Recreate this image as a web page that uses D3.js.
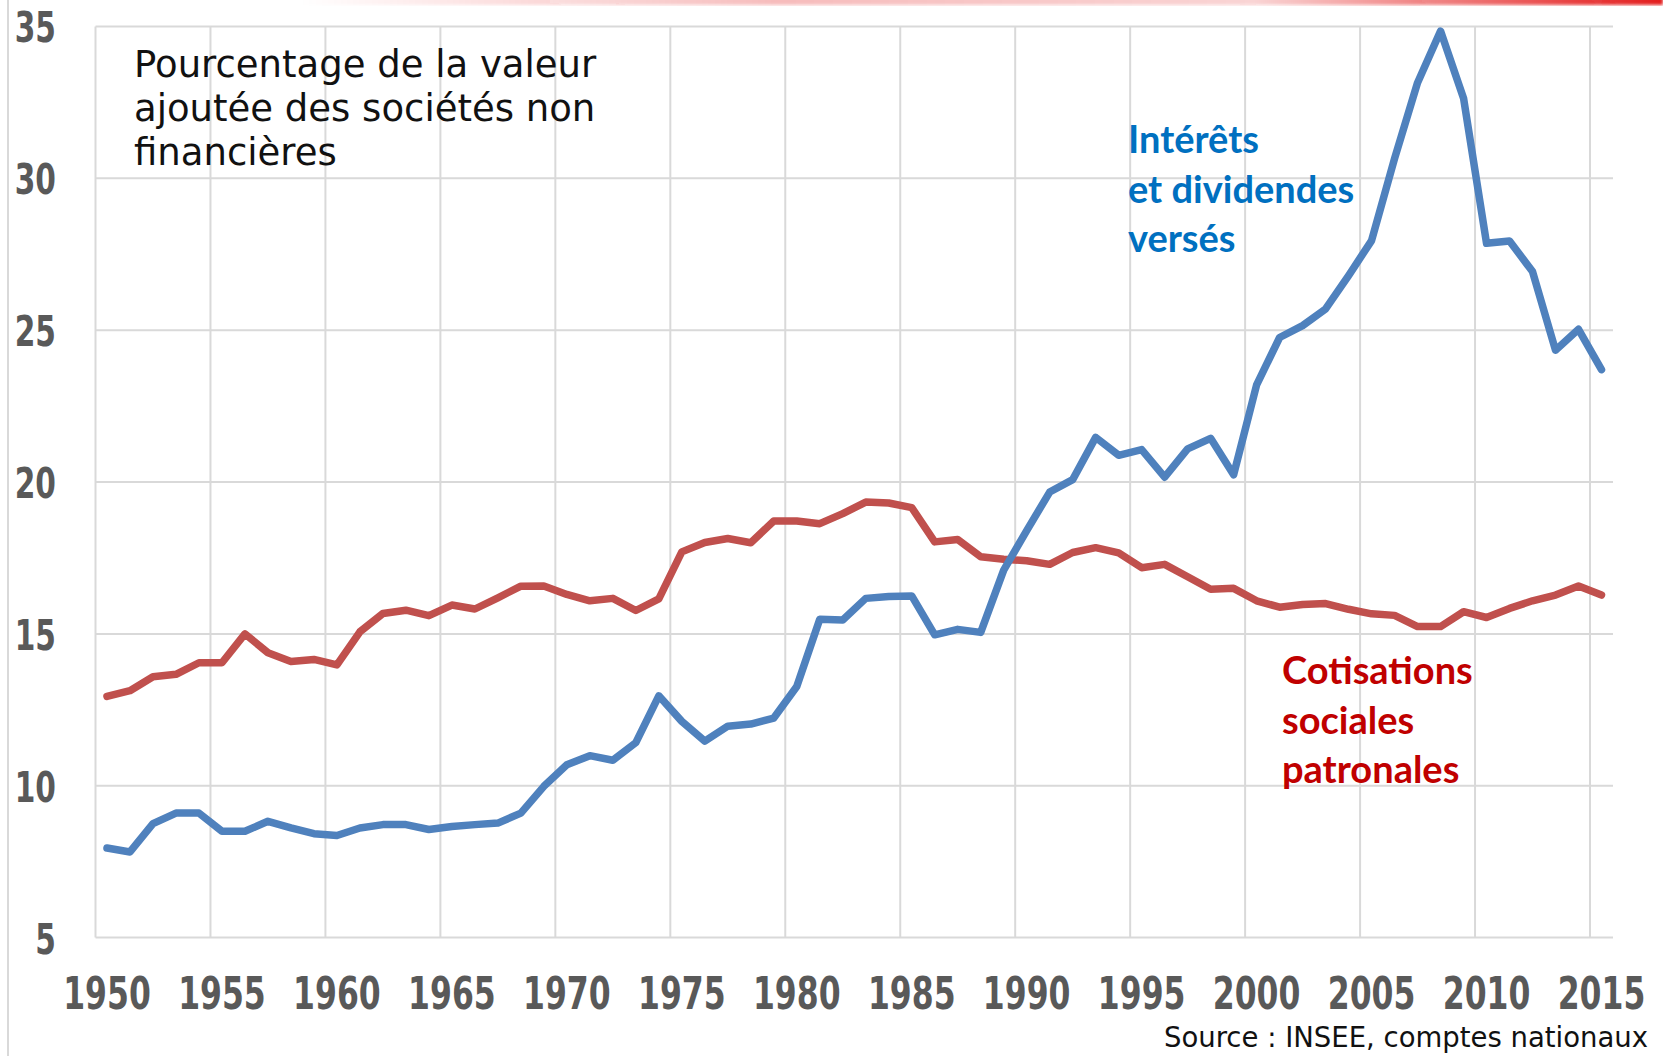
<!DOCTYPE html>
<html>
<head>
<meta charset="utf-8">
<script src="https://cdn.jsdelivr.net/npm/d3@7"></script>
<style>
  html, body { margin: 0; padding: 0; background: #fff; }
  svg { display: block; }
</style>
</head>
<body>
<svg id="chart"></svg>
<script>
'use strict';

var years = d3.range(1950, 2016);

// Intérêts et dividendes versés (% VA des SNF)
var interets = [
  7.95, 7.82, 8.75, 9.10, 9.10, 8.50, 8.50, 8.83, 8.61, 8.42,
  8.36, 8.61, 8.72, 8.72, 8.56, 8.66, 8.72, 8.77, 9.10, 9.98,
  10.69, 10.99, 10.84, 11.42, 12.96, 12.12, 11.47, 11.96, 12.03, 12.23,
  13.27, 15.48, 15.46, 16.17, 16.23, 16.25, 14.97, 15.15, 15.05, 17.10,
  18.40, 19.67, 20.08, 21.47, 20.88, 21.07, 20.16, 21.09, 21.44, 20.24,
  23.20, 24.76, 25.15, 25.70, 26.80, 27.95, 30.65, 33.15, 34.85, 32.64,
  27.86, 27.94, 26.93, 24.34, 25.03, 23.70
];

// Cotisations sociales patronales
var cotisations = [
  12.94, 13.13, 13.59, 13.67, 14.05, 14.05, 15.00, 14.38, 14.09, 14.16,
  13.98, 15.07, 15.67, 15.78, 15.60, 15.95, 15.82, 16.19, 16.57, 16.58,
  16.30, 16.09, 16.17, 15.77, 16.15, 17.70, 18.01, 18.14, 18.00, 18.72,
  18.72, 18.63, 18.96, 19.34, 19.31, 19.16, 18.03, 18.11, 17.54, 17.46,
  17.41, 17.29, 17.68, 17.84, 17.67, 17.18, 17.29, 16.88, 16.47, 16.50,
  16.09, 15.88, 15.97, 16.00, 15.81, 15.66, 15.61, 15.24, 15.24, 15.73,
  15.54, 15.84, 16.09, 16.28, 16.58, 16.28
];

var yTicks = [5, 10, 15, 20, 25, 30, 35];
var xTickYears = [1950, 1955, 1960, 1965, 1970, 1975, 1980, 1985, 1990, 1995, 2000, 2005, 2010, 2015];

var titleLines = ['Pourcentage de la valeur', 'ajoutée des sociétés non', 'financières'];
var interetsLabel = ['Intérêts', 'et dividendes', 'versés'];
var cotisationsLabel = ['Cotisations', 'sociales', 'patronales'];
var sourceText = 'Source : INSEE, comptes nationaux';

var width = 1663;
var height = 1056;
var plot = { left: 95.5, right: 1613, top: 26.5, bottom: 937.6 };

var tickFont = '"DejaVu Sans", sans-serif';
var labelFont = 'Lato, "Open Sans", "Noto Sans", sans-serif';

var svg = d3.select('#chart')
  .attr('width', width)
  .attr('height', height);

var x = d3.scaleBand()
  .domain(years)
  .range([plot.left, plot.right])
  .padding(0);

var y = d3.scaleLinear()
  .domain([5, 35])
  .range([plot.bottom, plot.top]);

function cx(year) {
  return x(year) + x.bandwidth() / 2;
}

// slide decoration: fuzzy red band at the top and border on the left
var defs = svg.append('defs');
var grad = defs.append('linearGradient').attr('id', 'topband');
grad.append('stop').attr('offset', '0%').attr('stop-color', '#e31b1b').attr('stop-opacity', 0);
grad.append('stop').attr('offset', '35%').attr('stop-color', '#e31b1b').attr('stop-opacity', 0.3);
grad.append('stop').attr('offset', '70%').attr('stop-color', '#e31b1b').attr('stop-opacity', 0.2);
grad.append('stop').attr('offset', '100%').attr('stop-color', '#e31b1b').attr('stop-opacity', 1);
defs.append('filter').attr('id', 'blur')
  .append('feGaussianBlur').attr('stdDeviation', 1.5);

svg.append('rect')
  .attr('x', 300).attr('y', -3)
  .attr('width', width - 300).attr('height', 8)
  .attr('fill', 'url(#topband)')
  .attr('filter', 'url(#blur)');

svg.append('line')
  .attr('x1', 8).attr('x2', 8)
  .attr('y1', 0).attr('y2', height)
  .attr('stroke', '#d9d9d9')
  .attr('stroke-width', 2);

// grid
var grid = svg.append('g').attr('class', 'grid');

grid.selectAll('line.h')
  .data(yTicks)
  .enter().append('line')
  .attr('class', 'h')
  .attr('x1', plot.left).attr('x2', plot.right)
  .attr('y1', function(d) { return y(d); })
  .attr('y2', function(d) { return y(d); })
  .attr('stroke', '#d9d9d9')
  .attr('stroke-width', 2);

grid.selectAll('line.v')
  .data(xTickYears)
  .enter().append('line')
  .attr('class', 'v')
  .attr('x1', function(d) { return x(d); })
  .attr('x2', function(d) { return x(d); })
  .attr('y1', plot.top).attr('y2', plot.bottom)
  .attr('stroke', '#d9d9d9')
  .attr('stroke-width', 2);

// axes labels: bold digits squeezed horizontally to look like the narrow original
var yAxis = d3.axisLeft(y)
  .tickValues(yTicks)
  .tickSize(0)
  .tickPadding(0);

svg.append('g')
  .attr('transform', 'translate(56,0)')
  .call(yAxis)
  .call(function(g) { g.select('.domain').remove(); })
  .selectAll('text')
  .attr('font-family', tickFont)
  .attr('font-weight', 'bold')
  .attr('font-size', 43)
  .attr('fill', '#595959')
  .attr('dy', '0.36em')
  .attr('transform', 'scale(0.69,1)');

var xAxis = d3.axisBottom(x)
  .tickValues(xTickYears)
  .tickSize(0)
  .tickPadding(0);

svg.append('g')
  .attr('transform', 'translate(0,' + 993 + ')')
  .call(xAxis)
  .call(function(g) { g.select('.domain').remove(); })
  .selectAll('text')
  .attr('font-family', tickFont)
  .attr('font-weight', 'bold')
  .attr('font-size', 45)
  .attr('fill', '#595959')
  .attr('dy', '0.36em')
  .attr('transform', 'scale(0.70,1)');

// series
var line = d3.line()
  .x(function(d, i) { return cx(years[i]); })
  .y(function(d) { return y(d); });

svg.append('path')
  .datum(cotisations)
  .attr('d', line)
  .attr('fill', 'none')
  .attr('stroke', '#c0504d')
  .attr('stroke-width', 7.5)
  .attr('stroke-linejoin', 'round')
  .attr('stroke-linecap', 'round');

svg.append('path')
  .datum(interets)
  .attr('d', line)
  .attr('fill', 'none')
  .attr('stroke', '#4f81bd')
  .attr('stroke-width', 7.5)
  .attr('stroke-linejoin', 'round')
  .attr('stroke-linecap', 'round');

// annotations
function textBlock(lines, xPos, yFirst, step, attrs) {
  var t = svg.append('text')
    .attr('x', xPos)
    .attr('y', yFirst);
  Object.keys(attrs).forEach(function(k) { t.attr(k, attrs[k]); });
  t.selectAll('tspan')
    .data(lines)
    .enter().append('tspan')
    .attr('x', xPos)
    .attr('y', function(d, i) { return yFirst + i * step; })
    .text(function(d) { return d; });
  return t;
}

textBlock(titleLines, 134, 77, 44, {
  'font-family': '"DejaVu Sans", sans-serif',
  'font-size': 37,
  'fill': '#111'
});

textBlock(interetsLabel, 1128, 153, 49.5, {
  'font-family': labelFont,
  'font-weight': 'bold',
  'font-size': 38,
  'fill': '#0070c0'
});

textBlock(cotisationsLabel, 1282, 684, 49.5, {
  'font-family': labelFont,
  'font-weight': 'bold',
  'font-size': 38,
  'fill': '#c00000'
});

svg.append('text')
  .attr('x', 1648)
  .attr('y', 1047)
  .attr('text-anchor', 'end')
  .attr('font-family', '"DejaVu Sans", sans-serif')
  .attr('font-size', 27.5)
  .attr('fill', '#111')
  .text(sourceText);
</script>
</body>
</html>
